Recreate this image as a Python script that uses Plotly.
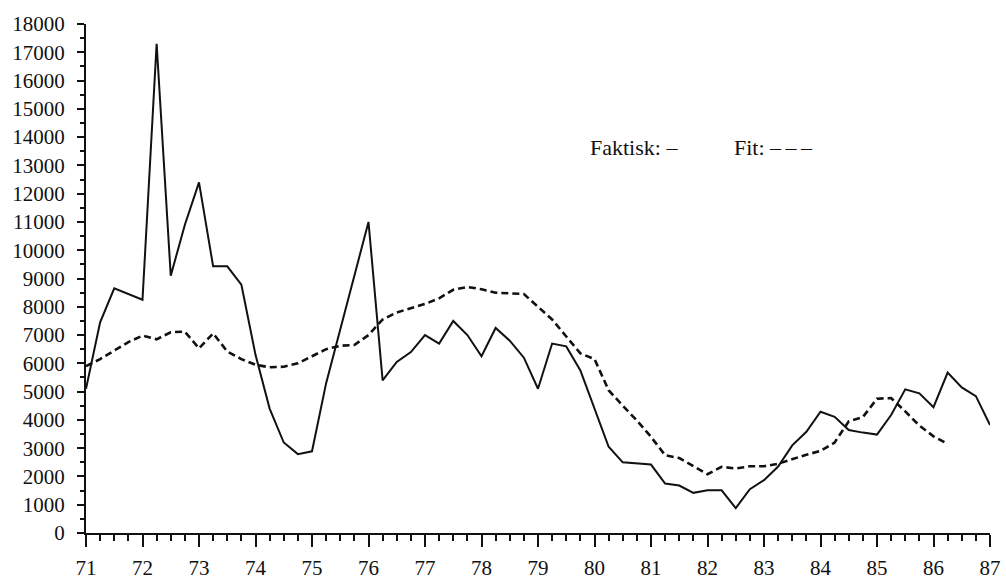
import plotly.graph_objects as go

# Quarterly observations, 1971Q1 .. 1987Q1
start_year = 71
faktisk = [5100, 7450, 8650, 8450, 8250, 17300, 9100, 10900, 12400, 9430, 9430, 8780,
           6300, 4400, 3200, 2790, 2890, 5300, 7200, 9200, 11000, 5400, 6050, 6400,
           7000, 6700, 7500, 7000, 6250, 7250, 6800, 6200, 5100, 6700, 6600, 5750,
           4400, 3050, 2500, 2450, 2420, 1750, 1680, 1420, 1510, 1510, 880, 1550,
           1870, 2350, 3100, 3580, 4290, 4110, 3640, 3550, 3480, 4170, 5080, 4940,
           4450, 5670, 5150, 4840, 3820]
fit = [5900, 6150, 6450, 6750, 6980, 6850, 7100, 7120, 6530, 7060, 6420, 6150,
       5950, 5860, 5880, 6000, 6250, 6500, 6620, 6650, 7000, 7550, 7800, 7950,
       8100, 8300, 8600, 8700, 8620, 8500, 8480, 8450, 8000, 7550, 6950, 6350,
       6150, 5050, 4500, 3980, 3400, 2750, 2650, 2350, 2080, 2340, 2280, 2360,
       2360, 2450, 2620, 2770, 2900, 3200, 3950, 4100, 4750, 4770, 4300, 3800,
       3420, 3150]
x_range = [71, 87]
y_range = [0, 18000]

x_f = [start_year + i / 4 for i in range(len(faktisk))]
x_fit = [start_year + i / 4 for i in range(len(fit))]

font_family = "Liberation Serif, Times New Roman, serif"
ink = "#111111"

fig = go.Figure()
fig.add_trace(go.Scatter(x=x_fit, y=fit, mode="lines", name="Fit",
                         line=dict(color=ink, width=2.6, dash="7px,4px")))
fig.add_trace(go.Scatter(x=x_f, y=faktisk, mode="lines", name="Faktisk",
                         line=dict(color=ink, width=2)))

fig.add_annotation(x=79.89, y=13630, text="Faktisk: \u2013", showarrow=False,
                   xanchor="left", yanchor="middle",
                   font=dict(family=font_family, size=22, color=ink))
fig.add_annotation(x=82.44, y=13630, text="Fit: \u2013\u2009\u2013\u2009\u2013", showarrow=False,
                   xanchor="left", yanchor="middle",
                   font=dict(family=font_family, size=22, color=ink))

fig.update_layout(
    width=1006, height=579,
    margin=dict(l=86, r=16, t=24, b=46),
    paper_bgcolor="white", plot_bgcolor="white",
    showlegend=False,
    font=dict(family=font_family, size=21, color=ink),
)
fig.update_xaxes(
    range=x_range, tickmode="linear", tick0=71, dtick=1, tickformat="d",
    automargin=False,
    showgrid=False, zeroline=False, showline=True, linecolor=ink, linewidth=2,
    ticks="outside", ticklen=12, tickwidth=2, tickcolor=ink,
    ticklabelstandoff=3,
    minor=dict(dtick=0.25, tick0=71, ticks="outside", ticklen=6, tickwidth=2,
               tickcolor=ink, showgrid=False),
)
fig.update_yaxes(
    range=y_range, tickmode="linear", tick0=0, dtick=1000, tickformat="d",
    automargin=False,
    showgrid=False, zeroline=False, showline=True, linecolor=ink, linewidth=2,
    ticks="outside", ticklen=7, tickwidth=2, tickcolor=ink,
    ticklabelstandoff=8,
    minor=dict(dtick=500, tick0=0, ticks="outside", ticklen=4, tickwidth=2,
               tickcolor=ink, showgrid=False),
)

fig.write_html("out.html")
